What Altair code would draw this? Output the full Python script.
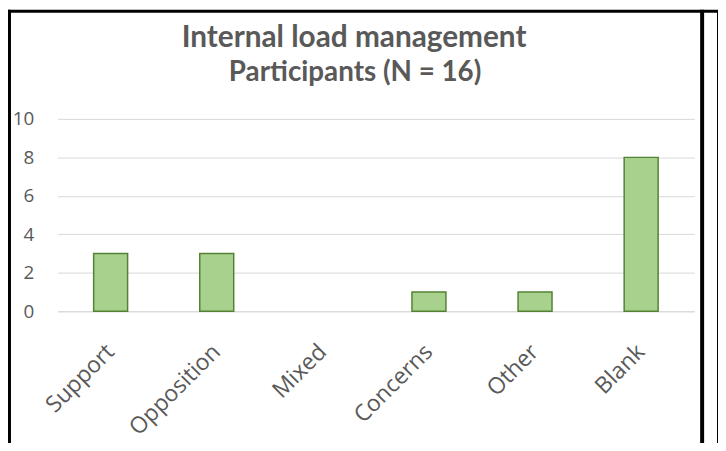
import altair as alt
import pandas as pd

categories = ["Support", "Opposition", "Mixed", "Concerns", "Other", "Blank"]
counts = [3, 3, 0, 1, 1, 8]
y_ticks = [0, 2, 4, 6, 8, 10]
title_lines = ["Internal load management", "Participants (N = 16)"]

df = pd.DataFrame({"category": categories, "count": counts})

TEXT = "#595959"
GRID = "#D9D9D9"

bars = (
    alt.Chart(df)
    .transform_filter("datum.count > 0")
    .mark_bar(fill="#A9D18E", stroke="#548235", strokeWidth=1.5)
    .encode(
        x=alt.X(
            "category:N",
            sort=categories,
            scale=alt.Scale(domain=categories, paddingInner=0.68, paddingOuter=0.34),
            axis=alt.Axis(
                title=None,
                labelAngle=-45,
                labelAlign="right",
                labelBaseline="middle",
                labelPadding=37,
                labelFont="Open Sans",
                labelFontSize=23,
                labelColor=TEXT,
                labelOverlap=False,
                labelLimit=300,
                ticks=False,
                tickSize=0,
                domainColor=GRID,
                domainWidth=1,
                grid=False,
            ),
        ),
        y=alt.Y(
            "count:Q",
            scale=alt.Scale(domain=[0, 10]),
            axis=alt.Axis(
                title=None,
                values=y_ticks,
                labelFont="Open Sans",
                labelFontSize=19,
                labelColor=TEXT,
                labelPadding=24,
                ticks=False,
                tickSize=0,
                domain=False,
                grid=True,
                gridColor=GRID,
                gridWidth=1,
            ),
        ),
    )
)

title_style = dict(font="Lato", fontWeight="bold", color=TEXT,
                   align="center", baseline="alphabetic")
t1 = alt.Chart(pd.DataFrame({"t": [title_lines[0]]})).mark_text(fontSize=30, **title_style).encode(
    text="t:N", x=alt.value(299), y=alt.value(-73)
)
t2 = alt.Chart(pd.DataFrame({"t": [title_lines[1]]})).mark_text(fontSize=28, **title_style).encode(
    text="t:N", x=alt.value(300), y=alt.value(-38)
)

one = pd.DataFrame({"k": [0]})
left = alt.Chart(one).mark_rule(color="black", strokeWidth=3).encode(
    x=alt.value(-48.5), y=alt.value(-110), y2=alt.value(340)
)
top = alt.Chart(one).mark_rule(color="black", strokeWidth=3).encode(
    x=alt.value(-50), x2=alt.value(670), y=alt.value(-108.5)
)
right = alt.Chart(one).mark_rule(color="black", strokeWidth=4).encode(
    x=alt.value(650), y=alt.value(-110), y2=alt.value(340)
)
far_right = alt.Chart(one).mark_rule(color="black", strokeWidth=1).encode(
    x=alt.value(665.5), y=alt.value(-108), y2=alt.value(340)
)

chart = (
    alt.layer(bars, t1, t2, left, top, right, far_right)
    .properties(
        width=642,
        height=194,
        autosize=alt.AutoSizeParams(type="none"),
        padding={"left": 50, "top": 110, "right": 24, "bottom": 131},
    )
    .configure_view(stroke=None)
)

chart.save("out.html", embed_options={"renderer": "svg", "actions": False})
